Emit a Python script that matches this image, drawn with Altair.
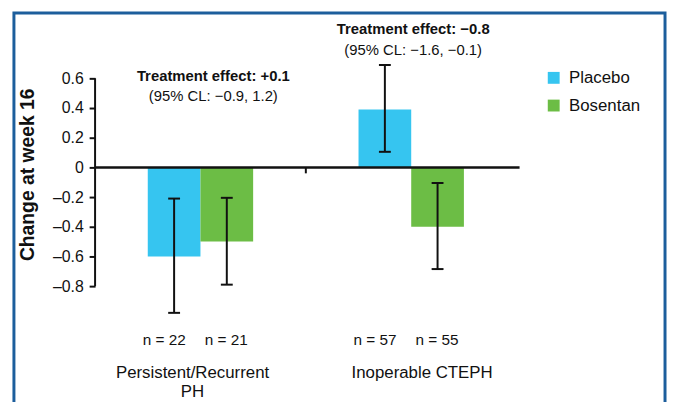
import altair as alt
import pandas as pd

# ---------------- data ----------------
groups = ["Persistent/Recurrent PH", "Inoperable CTEPH"]
group_labels = ["Persistent/Recurrent\nPH", "Inoperable CTEPH"]
series = ["Placebo", "Bosentan"]
colors = ["#36C5F0", "#6CBD45"]

placebo_mean = [-0.60, 0.39]
bosentan_mean = [-0.50, -0.40]
placebo_lo = [-0.98, 0.105]
placebo_hi = [-0.21, 0.69]
bosentan_lo = [-0.79, -0.685]
bosentan_hi = [-0.205, -0.105]
placebo_n = [22, 57]
bosentan_n = [21, 55]

effect_titles = ["Treatment effect: +0.1", "Treatment effect: \u22120.8"]
effect_cls = ["(95% CL: \u22120.9, 1.2)", "(95% CL: \u22121.6, \u22120.1)"]

y_ticks = [-0.8, -0.6, -0.4, -0.2, 0, 0.2, 0.4, 0.6]
y_title = "Change at week 16"

# ---------------- tables ----------------
rows = []
for i, g in enumerate(groups):
    rows.append(dict(group=g, series="Placebo", mean=placebo_mean[i],
                     lo=placebo_lo[i], hi=placebo_hi[i], nlabel=f"n = {placebo_n[i]}"))
    rows.append(dict(group=g, series="Bosentan", mean=bosentan_mean[i],
                     lo=bosentan_lo[i], hi=bosentan_hi[i], nlabel=f"n = {bosentan_n[i]}"))
df = pd.DataFrame(rows)
cat_df = pd.DataFrame({"group": groups, "label": group_labels})
one = pd.DataFrame({"k": [0]})

INK = "#111111"
FRAME = "#1C5E9C"

x_scale = alt.Scale(domain=groups, paddingInner=0, paddingOuter=0)
xo_scale = alt.Scale(domain=series, paddingInner=0, paddingOuter=1.0)
y_scale = alt.Scale(domain=[-1.2, 1.0], nice=False)

X = alt.X("group:N", scale=x_scale, axis=None)
XO = alt.XOffset("series:N", scale=xo_scale)

base = alt.Chart(df)

frame = alt.Chart(one).mark_rect(filled=False, stroke=FRAME, strokeWidth=3).encode(
    x=alt.value(-82), x2=alt.value(576), y=alt.value(-6), y2=alt.value(420)
)

bars = base.mark_bar().encode(
    x=X,
    xOffset=XO,
    y=alt.Y(
        "mean:Q",
        scale=y_scale,
        stack=None,
        axis=alt.Axis(
            values=y_ticks,
            domain=False,
            grid=False,
            tickColor=INK,
            tickWidth=2,
            tickSize=6,
            labelFontSize=16,
            labelColor=INK,
            labelPadding=6,
            labelExpr="datum.value == 0 ? '0' : replace(format(datum.value, '.1f'), /[-\u2212]/, '\u2013')",
            title=y_title,
            titleFontSize=19.5,
            titleFontWeight="bold",
            titleColor=INK,
            titleX=-68,
            titleY=157,
            titleAngle=270,
            titleAlign="center",
            titleBaseline="middle",
        ),
    ),
    color=alt.Color(
        "series:N",
        scale=alt.Scale(domain=series, range=colors),
        legend=alt.Legend(
            title=None,
            orient="none",
            legendX=455,
            legendY=51,
            symbolType="square",
            symbolSize=144,
            symbolStrokeWidth=0,
            symbolOpacity=1,
            labelFontSize=17,
            labelColor=INK,
            labelOffset=7,
            rowPadding=10,
            padding=0,
        ),
    ),
)

zero_df = pd.DataFrame({"v": [0.0]})
zero_line = alt.Chart(zero_df).mark_rule(strokeWidth=2.5, color=INK).encode(
    y=alt.Y("v:Q", scale=y_scale), x=alt.value(0), x2=alt.value(429)
)

axis_df = pd.DataFrame({"a": [y_ticks[0]], "b": [y_ticks[-1]]})
axis_line = alt.Chart(axis_df).mark_rule(strokeWidth=2, color=INK).encode(
    x=alt.value(0), y=alt.Y("a:Q", scale=y_scale), y2="b:Q"
)

sep_df = pd.DataFrame({"group": [groups[1]], "v": [0.0]})
sep_tick = alt.Chart(sep_df).mark_rule(strokeWidth=2, color=INK).encode(
    x=alt.X("group:N", scale=x_scale, axis=None, bandPosition=0),
    y=alt.Y("v:Q", scale=y_scale),
    y2=alt.value(156),
)

err = base.mark_rule(strokeWidth=2, color=INK).encode(
    x=X, xOffset=XO, y=alt.Y("lo:Q", scale=y_scale), y2="hi:Q"
)
cap_lo = base.mark_tick(size=12, thickness=2, color=INK, orient="horizontal", opacity=1).encode(
    x=X, xOffset=XO, y=alt.Y("lo:Q", scale=y_scale)
)
cap_hi = base.mark_tick(size=12, thickness=2, color=INK, orient="horizontal", opacity=1).encode(
    x=X, xOffset=XO, y=alt.Y("hi:Q", scale=y_scale)
)


def n_layer(ser, dx):
    return base.transform_filter(alt.datum.series == ser).mark_text(
        fontSize=15.5, baseline="middle", dx=dx, color=INK
    ).encode(x=X, xOffset=XO, y=alt.value(324), text="nlabel:N")


n_pl = n_layer("Placebo", -10)
n_bo = n_layer("Bosentan", -0.5)


def cat_layer(grp, dx):
    return alt.Chart(cat_df).transform_filter(alt.datum.group == grp).mark_text(
        lineBreak="\n", baseline="top", fontSize=17, lineHeight=19.5, dx=dx, color=INK
    ).encode(x=X, y=alt.value(350), text="label:N")


cat1 = cat_layer(groups[0], -8)
cat2 = cat_layer(groups[1], 11)


def note(txt, grp, ypix, dx, bold):
    d = pd.DataFrame({"group": [grp], "t": [txt]})
    return alt.Chart(d).mark_text(
        fontSize=15, fontWeight="bold" if bold else "normal",
        baseline="middle", dx=dx, color=INK
    ).encode(x=X, y=alt.value(ypix), text="t:N")


t1 = note(effect_titles[0], groups[0], 58, 13, True)
c1 = note(effect_cls[0], groups[0], 78, 13, False)
t2 = note(effect_titles[1], groups[1], 10, 2, True)
c2 = note(effect_cls[1], groups[1], 31, 2, False)

chart = alt.layer(
    frame, bars, zero_line, axis_line, sep_tick, err, cap_lo, cap_hi,
    n_pl, n_bo, cat1, cat2, t1, c1, t2, c2
).properties(
    width=426,
    height=330,
    autosize=alt.AutoSizeParams(type="none"),
    padding={"left": 88, "top": 9, "right": 152, "bottom": 55},
).configure(font="Liberation Sans").configure_view(stroke=None)

chart.save("out.html", embed_options={"renderer": "svg", "actions": False})
